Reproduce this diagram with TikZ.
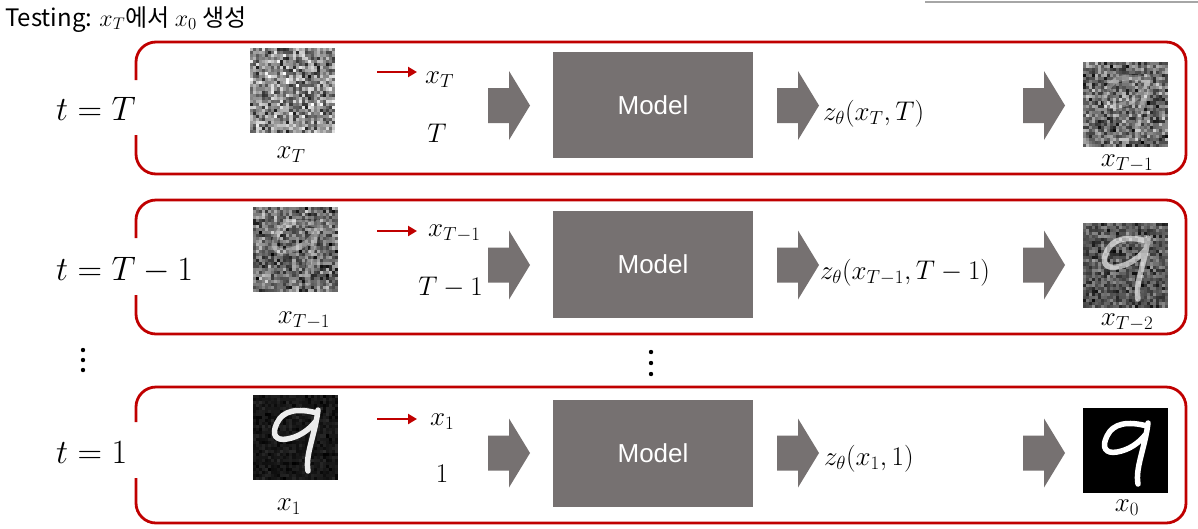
\RequirePackage{fix-cm}
\documentclass[tikz,border=0pt]{standalone}
\usepackage{fontspec}
\newfontfamily\krfont{Noto Sans CJK KR}
\newfontfamily\sansmodel{Liberation Sans}
\usetikzlibrary{arrows.meta}
\definecolor{myred}{HTML}{C00000}
\definecolor{boxgray}{HTML}{767171}
\definecolor{linegray}{HTML}{A6A6A6}
\newcommand{\noisepatch}[4]{%
  \begin{scope}[shift={(#1,#2)}]
  \foreach \i in {0,...,27}{%
    \foreach \j in {0,...,27}{%
      \pgfmathsetmacro{\g}{max(0,min(1,#3+#4*(rnd+rnd-1)))}%
      \definecolor{nc}{gray}{\g}%
      \fill[nc] ({\i*85/28},{\j*85/28}) rectangle ++(3.2,3.2);
    }}
  \end{scope}}
\newcommand{\ninedigit}[3]{%
  \begin{scope}[shift={(#1,#2)}]
  \draw[white, opacity=#3, line width=5.5pt, line cap=round, line join=round]
    (64,18) .. controls (45,13) and (30,15) .. (24,28)
    .. controls (18,40) and (23,46) .. (34,44)
    .. controls (46,42) and (56,35) .. (63,26)
    (65,15) .. controls (62,40) and (52,60) .. (55,76);
  \end{scope}}
\tikzset{
  frame/.style={draw=myred, line width=2.8pt, rounded corners=20pt},
  redarr/.style={draw=myred, line width=2.6pt, -{Triangle[length=9pt,width=10pt]}},
  modelbox/.style={fill=boxgray, inner sep=0pt, minimum width=200pt, text=white,
    font=\sansmodel\fontsize{26}{30}\selectfont},
  mlabel/.style={inner sep=0pt, font=\fontsize{27}{32}\selectfont},
  tlabel/.style={inner sep=0pt, anchor=base west, font=\fontsize{34}{40}\selectfont},
  barrow/.pic={\fill[boxgray] (0,-17.5) -- (21,-17.5) -- (21,-34.5) -- (42,0) -- (21,34.5) -- (21,17.5) -- (0,17.5) -- cycle;},
  dot/.style={fill=black, circle, inner sep=0pt, minimum size=4.4pt}
}
\begin{document}
\begin{tikzpicture}[x=1pt,y=-1pt]
\pgfmathsetseed{12345}
\useasboundingbox (0,0) rectangle (1198,528);
\fill[white] (0,0) rectangle (1198,528);
% top right line
\coordinate (gl1) at (925,2);
\coordinate (gl2) at (1198,2);
\draw[linegray, line width=2pt] (gl1) -- (gl2);
% title
\node[anchor=base west, inner sep=0pt, font=\krfont\fontsize{24}{28}\selectfont] (title) at (5,26)
  {Testing: $x_T$에서 $x_0$ 생성};

% ---------- frames ----------
\draw[frame] (136,135) -- (136,174) -- (1186,174) -- (1186,42) -- (136,42) -- (136,80);
\draw[frame] (136,295) -- (136,334) -- (1186,334) -- (1186,200) -- (136,200) -- (136,238);
\draw[frame] (136,478) -- (136,523) -- (1186,523) -- (1186,387) -- (136,387) -- (136,422);

% ---------- left labels ----------
\node[tlabel] (tT) at (56,120) {$t=T$};
\node[tlabel] (tT1) at (56,280) {$t=T-1$};
\node[tlabel] (t1) at (56,463) {$t=1$};

% ---------- images ----------
\noisepatch{250}{48}{0.55}{0.5}
\noisepatch{1083}{62}{0.42}{0.42}
\ninedigit{1083}{62}{0.3}
\noisepatch{253}{207}{0.42}{0.42}
\ninedigit{253}{207}{0.3}
\noisepatch{1083}{223}{0.33}{0.3}
\ninedigit{1083}{223}{0.6}
\noisepatch{253}{395}{0.09}{0.09}
\ninedigit{253}{395}{0.92}
\fill[black] (1083,408) rectangle ++(85,85);
\ninedigit{1083}{408}{1}

% image labels
\node[mlabel] (lT) at (291,155) {$x_T$};
\node[mlabel] (lT1) at (304,320) {$x_{T-1}$};
\node[mlabel] (l1) at (289,507) {$x_1$};
\node[mlabel] (oT1) at (1127,163) {$x_{T-1}$};
\node[mlabel] (oT2) at (1127,322) {$x_{T-2}$};
\node[mlabel] (o0) at (1127,508) {$x_0$};

% ---------- inputs ----------
\node[mlabel, anchor=west] (in1) at (425,80) {$x_T$};
\node[mlabel] (tin1) at (437,133) {$T$};
\node[mlabel, anchor=west] (in2) at (428,233) {$x_{T-1}$};
\node[mlabel, anchor=east] (tin2) at (483,287) {$T-1$};
\node[mlabel, anchor=west] (in3) at (430,422) {$x_1$};
\node[mlabel] (tin3) at (442,474) {$1$};

\coordinate (ra1) at (377,72);  \coordinate (rb1) at (417,72);
\coordinate (ra2) at (377,231); \coordinate (rb2) at (417,231);
\coordinate (ra3) at (377,419); \coordinate (rb3) at (417,419);
\draw[redarr] (ra1) -- (rb1);
\draw[redarr] (ra2) -- (rb2);
\draw[redarr] (ra3) -- (rb3);

% ---------- block arrows ----------
\pic at (488,105.5) {barrow};
\pic at (777,105.5) {barrow};
\pic at (1023,105.5) {barrow};
\pic at (488,265) {barrow};
\pic at (777,265) {barrow};
\pic at (1023,265) {barrow};
\pic at (488,453) {barrow};
\pic at (777,453) {barrow};
\pic at (1023,453) {barrow};

% ---------- model boxes ----------
\node[modelbox, minimum height=106pt] (m1) at (653,105) {Model};
\node[modelbox, minimum height=107pt] (m2) at (653,264.5) {Model};
\node[modelbox, minimum height=107pt] (m3) at (653,453.5) {Model};

% ---------- outputs ----------
\node[mlabel, anchor=west] (z1) at (823,114) {$z_\theta(x_T,T)$};
\node[mlabel, anchor=west] (z2) at (820,273) {$z_\theta(x_{T-1},T-1)$};
\node[mlabel, anchor=west] (z3) at (824,459) {$z_\theta(x_1,1)$};

% ---------- dots ----------
\node[dot] (d1) at (83,350) {};
\node[dot] (d2) at (83,360) {};
\node[dot] (d3) at (83,370) {};
\node[dot] (d4) at (651,352) {};
\node[dot] (d5) at (651,363) {};
\node[dot] (d6) at (651,374) {};
\end{tikzpicture}
\end{document}
